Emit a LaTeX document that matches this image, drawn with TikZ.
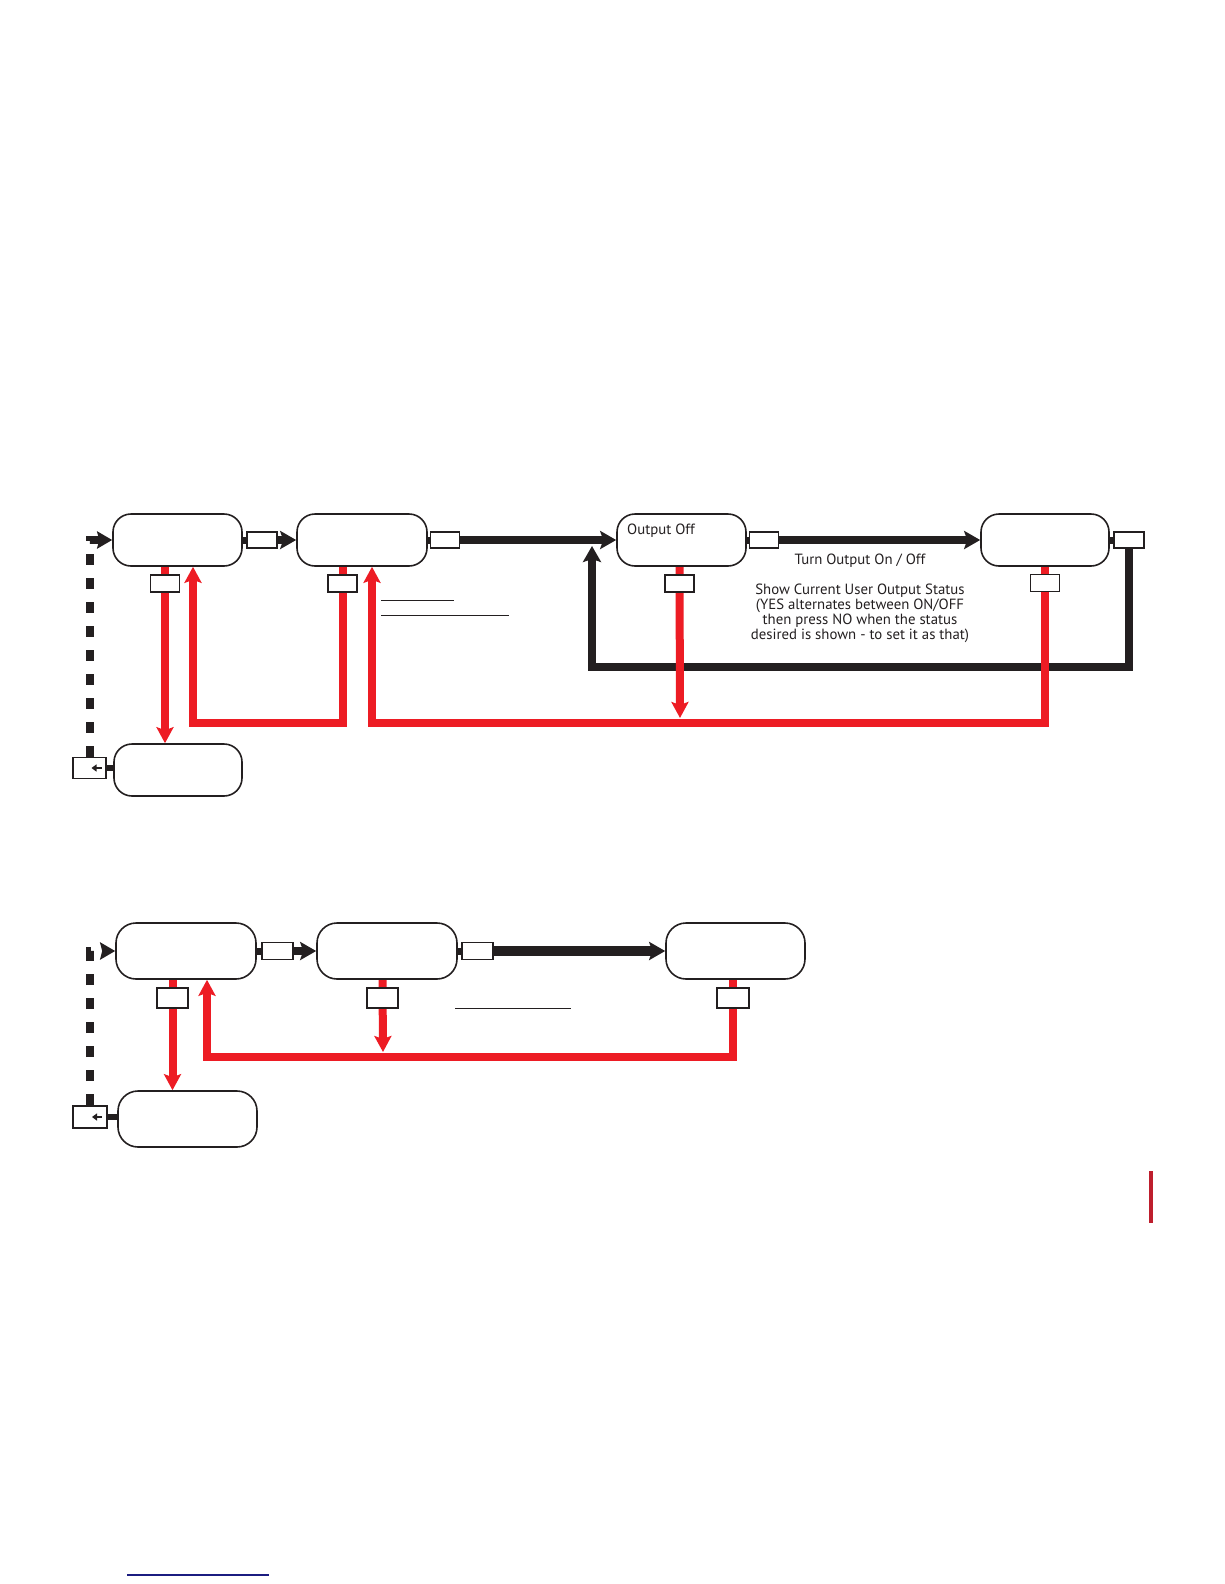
\documentclass[tikz,border=0pt]{standalone}
\usepackage{fontspec}
\setmainfont{PT Sans}
\usetikzlibrary{arrows.meta,backgrounds}
\definecolor{ink}{HTML}{231F20}
\definecolor{flowred}{HTML}{ED1C24}
\definecolor{barred}{HTML}{BE1E2D}
\definecolor{navyline}{HTML}{1B1C80}
\tikzset{
  bigbox/.style={draw=ink, line width=1.6pt, rounded corners=18pt, fill=white, inner sep=0pt, minimum height=52pt},
  smallbox/.style={draw=ink, line width=1.6pt, fill=white, inner sep=0pt, minimum width=29pt, minimum height=17pt},
  stub/.style={draw=ink, line width=7pt},
  blackflow/.style={draw=ink, line width=8pt, -{Stealth[length=16pt,width=18pt,inset=3pt]}},
  redflow/.style={draw=flowred, line width=8pt, -{Stealth[length=16pt,width=17pt,inset=3pt]}},
  dashflow/.style={draw=ink, line width=8pt, dash pattern=on 11pt off 13pt, -{Stealth[length=15pt,width=17pt,inset=2pt]}},
  rule/.style={draw=ink, line width=1pt},
  txt/.style={font=\fontsize{14.8}{15}\selectfont, text=ink, inner sep=0pt}
}
\begin{document}
\begin{tikzpicture}[x=1pt, y=-1pt]
\useasboundingbox (0,0) rectangle (1224,1584);

% ---------- top diagram ----------
\node[bigbox, minimum width=129pt] (A) at (177.5,540) {};
\node[bigbox, minimum width=128pt] (B) at (178,770) {};
\node[bigbox, minimum width=130pt] (C) at (362,540) {};
\node[bigbox, minimum width=129pt] (D) at (681.5,540) {};
\node[bigbox, minimum width=128pt] (E) at (1045,540) {};
\node[txt, anchor=base west] (Dlabel) at (627,534) {Output Off};

\node[smallbox, minimum width=30pt, minimum height=16pt] (sAC) at (262,540) {};
\node[smallbox] (sA) at (165,583.5) {};
\node[smallbox, minimum width=33pt, minimum height=21pt] (sB) at (89.5,768) {};
\node[smallbox] (sC) at (342.5,583.5) {};
\node[smallbox, minimum height=16pt] (sCD) at (445,540) {};
\node[smallbox] (sD) at (679.5,583.5) {};
\node[smallbox, minimum height=16pt] (sDE) at (764,540) {};
\node[smallbox] (sE) at (1045,583) {};
\node[smallbox, minimum width=30pt, minimum height=16pt] (sER) at (1129,540) {};

\coordinate (loopL) at (592,667);
\coordinate (loopTip) at (592,546);
\coordinate (redY1) at (193,723);
\coordinate (redY2) at (372,723);
\coordinate (redTipD) at (680,718);

\node[txt, anchor=base] (turn) at (860,564) {Turn Output On / Off};
\node[txt, align=center, anchor=north] (status) at (860,584)
  {Show Current User Output Status\\(YES alternates between ON/OFF\\then press NO when the status\\desired is shown - to set it as that)};

\begin{scope}[on background layer]
  \draw[stub] (A.east) -- (sAC.west);
  \draw[blackflow] (sAC.east) -- (C.west);
  \draw[stub] (C.east) -- (sCD.west);
  \draw[blackflow] (sCD.east) -- (D.west);
  \draw[stub] (D.east) -- (sDE.west);
  \draw[blackflow] (sDE.east) -- (E.west);
  \draw[stub] (E.east) -- (sER.west);
  \draw[blackflow] (sER.south) |- (loopL) -- (loopTip);
  \draw[stub, line width=6pt] (sB.east) -- (sB.east -| B.west);
  \draw[dashflow] (sB.north) |- (A.west);
  \draw[redflow] (sA |- A.south) -- (sA |- B.north);
  \draw[redflow] (sC |- C.south) |- (redY1) -- (redY1 |- A.south);
  \draw[redflow] (sE |- E.south) |- (redY2) -- (redY2 |- C.south);
  \draw[redflow] (sD |- D.south) -- (redTipD);
\end{scope}
\draw[ink, line width=1.6pt, -{Triangle[length=5pt,width=7pt]}] ([xshift=12pt]sB.center) -- ([xshift=2pt]sB.center);

\draw[rule] (381,600) -- (454,600);
\draw[rule] (381,615) -- (509,615);

% ---------- bottom diagram ----------
\node[bigbox, minimum width=140pt, minimum height=56pt, rounded corners=20pt] (F) at (186,951) {};
\node[bigbox, minimum width=139pt, minimum height=56pt, rounded corners=20pt] (G) at (187.5,1119) {};
\node[bigbox, minimum width=140pt, minimum height=56pt, rounded corners=20pt] (H) at (387,951) {};
\node[bigbox, minimum width=139pt, minimum height=56pt, rounded corners=20pt] (I) at (735.5,951) {};

\node[smallbox, minimum width=31pt] (sFH) at (277.5,951) {};
\node[smallbox, minimum width=31pt, minimum height=20pt] (sF) at (172.5,998) {};
\node[smallbox, minimum width=34pt, minimum height=22pt] (sG) at (90,1117) {};
\node[smallbox, minimum width=31pt, minimum height=20pt] (sH) at (382.5,998) {};
\node[smallbox, minimum width=31pt] (sHI) at (477.5,951) {};
\node[smallbox, minimum width=32pt, minimum height=20pt] (sI) at (733,998) {};

\coordinate (redY3) at (207,1057);
\coordinate (redTipH) at (383,1052);

\begin{scope}[on background layer]
  \draw[stub] (F.east) -- (sFH.west);
  \draw[blackflow] (sFH.east) -- (H.west);
  \draw[stub] (H.east) -- (sHI.west);
  \draw[blackflow, line width=9.5pt] (sHI.east) -- (I.west);
  \draw[stub, line width=6pt] (sG.east) -- (sG.east -| G.west);
  \draw[dashflow] (sG.north) |- (F.west);
  \draw[redflow] (sF |- F.south) -- (sF |- G.north);
  \draw[redflow] (sH |- H.south) -- (redTipH);
  \draw[redflow] (sI |- I.south) |- (redY3) -- (redY3 |- F.south);
\end{scope}
\draw[ink, line width=1.6pt, -{Triangle[length=5pt,width=7pt]}] ([xshift=12pt]sG.center) -- ([xshift=2pt]sG.center);

\draw[rule] (455,1008) -- (571,1008);

% ---------- page marks ----------
\draw[barred, line width=4pt] (1151,1171) -- (1151,1223);
\draw[navyline, line width=1.5pt] (127,1575) -- (269,1575);
\end{tikzpicture}
\end{document}
